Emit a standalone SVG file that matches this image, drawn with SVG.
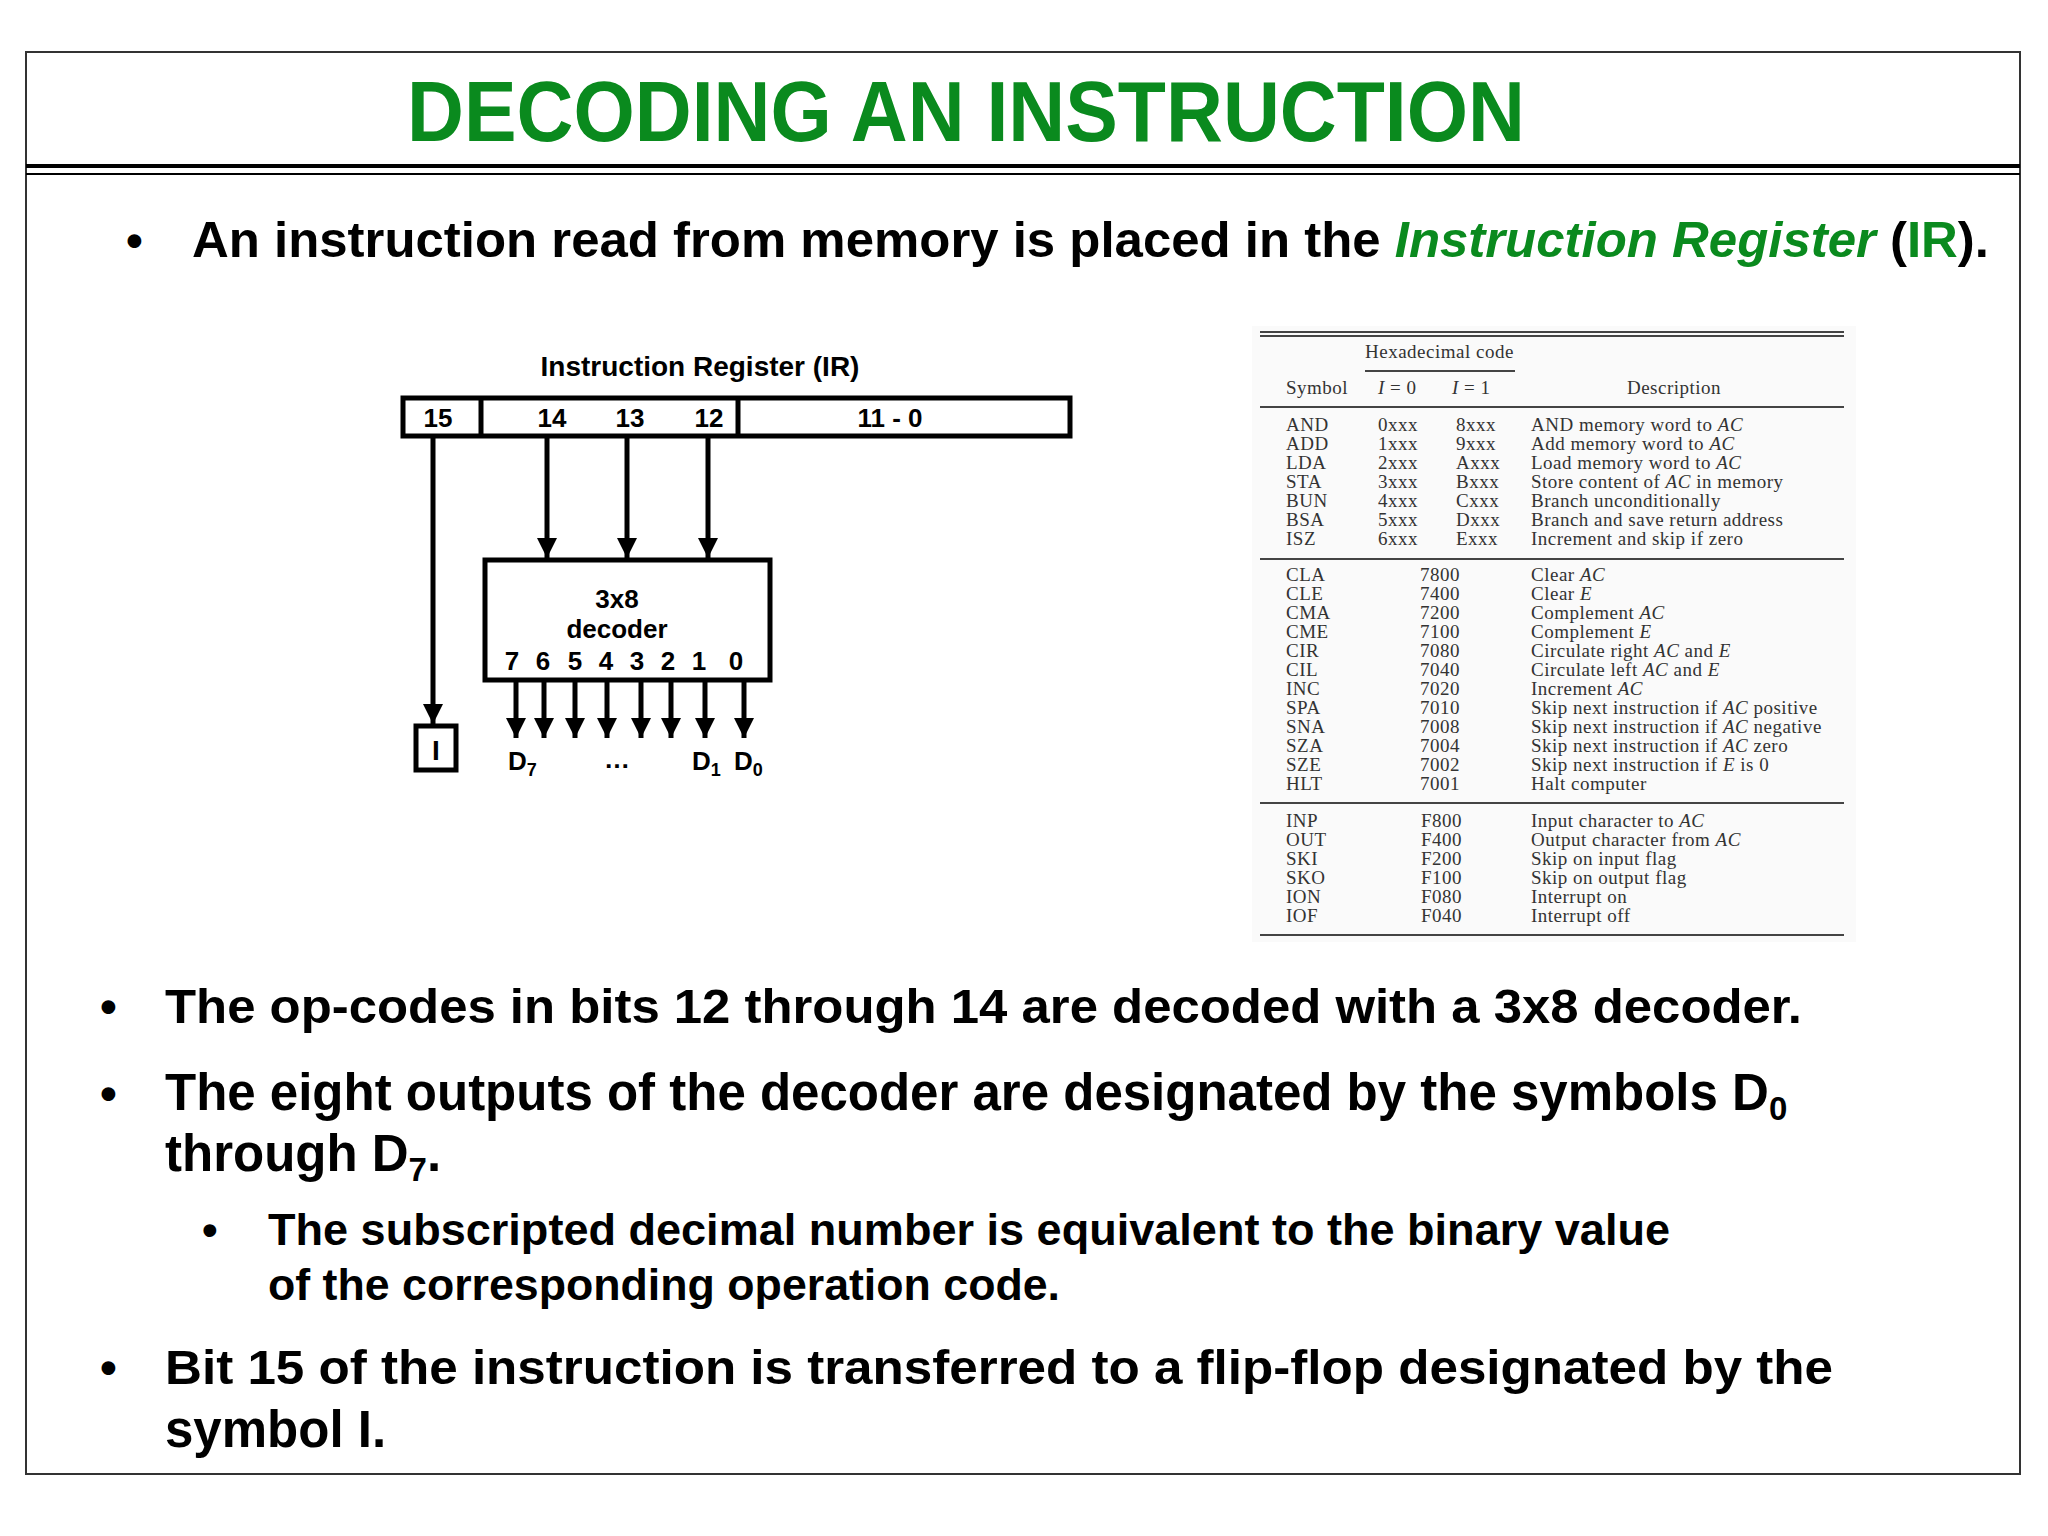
<svg xmlns="http://www.w3.org/2000/svg" width="2048" height="1536" viewBox="0 0 2048 1536">
<defs>
<marker id="ah" viewBox="0 0 10 10" refX="10" refY="5" markerWidth="4" markerHeight="4" orient="auto" markerUnits="strokeWidth"><path d="M0,0 L10,5 L0,10 z" fill="#000"/></marker>
<style>
.b{font-family:"Liberation Sans",Arial,sans-serif;font-weight:bold;fill:#000}
.g{fill:#0a8a1e}
.t{font-family:"Liberation Serif","Times New Roman",serif;font-size:19px;letter-spacing:0.5px;fill:#333}
.w{stroke:#000;stroke-width:5;fill:none}
.c{stroke:#000;stroke-width:5;marker-end:url(#ah)}
.tl{stroke:#444;stroke-width:2}
</style>
</defs>
<rect width="2048" height="1536" fill="#fff"/>
<rect x="26" y="52" width="1994" height="1422" fill="none" stroke="#333" stroke-width="2"/>
<line x1="26" y1="166" x2="2020" y2="166" stroke="#000" stroke-width="4"/>
<line x1="26" y1="174" x2="2020" y2="174" stroke="#000" stroke-width="2"/>
<text class="b g" x="966" y="141" font-size="86" text-anchor="middle" textLength="1118" lengthAdjust="spacingAndGlyphs">DECODING AN INSTRUCTION</text>
<text class="b" x="126" y="257" font-size="48">•</text>
<text class="b" x="192" y="257" font-size="50" textLength="1797" lengthAdjust="spacingAndGlyphs">An instruction read from memory is placed in the <tspan class="g" font-style="italic">Instruction Register</tspan> (<tspan class="g">IR</tspan>).</text>

<g id="ir">
<text class="b" x="700" y="376" font-size="28" text-anchor="middle">Instruction Register (IR)</text>
<rect class="w" x="403" y="398" width="667" height="38"/>
<line class="w" x1="481" y1="398" x2="481" y2="436"/>
<line class="w" x1="738" y1="398" x2="738" y2="436"/>
<g class="b" font-size="26" text-anchor="middle">
<text x="438" y="427">15</text><text x="552" y="427">14</text><text x="630" y="427">13</text><text x="709" y="427">12</text><text x="890" y="427">11 - 0</text>
</g>
</g>
<g id="decoder">
<rect class="w" x="485" y="560" width="285" height="120"/>
<g class="b" font-size="26" text-anchor="middle">
<text x="617" y="608">3x8</text><text x="617" y="638">decoder</text>
<text x="512" y="670">7</text><text x="543" y="670">6</text><text x="575" y="670">5</text><text x="606" y="670">4</text><text x="637" y="670">3</text><text x="668" y="670">2</text><text x="699" y="670">1</text><text x="736" y="670">0</text>
</g>
</g>
<g id="flipflop">
<rect class="w" x="416" y="726" width="40" height="44"/>
<text class="b" x="436" y="760" font-size="28" text-anchor="middle">I</text>
</g>
<g id="outputs" class="b" font-size="26">
<text x="508" y="770">D<tspan font-size="18" dy="6">7</tspan></text>
<text x="617" y="768" text-anchor="middle">…</text>
<text x="692" y="770">D<tspan font-size="18" dy="6">1</tspan></text>
<text x="734" y="770">D<tspan font-size="18" dy="6">0</tspan></text>
</g>
<g id="connectors">
<line class="c" x1="433" y1="436" x2="433" y2="724"/>
<line class="c" x1="547" y1="436" x2="547" y2="558"/>
<line class="c" x1="627" y1="436" x2="627" y2="558"/>
<line class="c" x1="708" y1="436" x2="708" y2="558"/>
<line class="c" x1="516" y1="680" x2="516" y2="738"/>
<line class="c" x1="544" y1="680" x2="544" y2="738"/>
<line class="c" x1="575" y1="680" x2="575" y2="738"/>
<line class="c" x1="607" y1="680" x2="607" y2="738"/>
<line class="c" x1="641" y1="680" x2="641" y2="738"/>
<line class="c" x1="671" y1="680" x2="671" y2="738"/>
<line class="c" x1="705" y1="680" x2="705" y2="738"/>
<line class="c" x1="744" y1="680" x2="744" y2="738"/>
</g>

<g id="table">
<rect x="1252" y="326" width="604" height="616" fill="#fafafa"/>
<line class="tl" x1="1260" y1="332" x2="1844" y2="332" stroke-width="2.5"/>
<line class="tl" x1="1260" y1="336" x2="1844" y2="336" stroke-width="1"/>
<line class="tl" x1="1365" y1="371" x2="1515" y2="371"/>
<line class="tl" x1="1260" y1="407" x2="1844" y2="407"/>
<line class="tl" x1="1260" y1="559" x2="1844" y2="559"/>
<line class="tl" x1="1260" y1="803" x2="1844" y2="803"/>
<line class="tl" x1="1260" y1="935" x2="1844" y2="935"/>
<text class="t" x="1365" y="358">Hexadecimal code</text>
<text class="t" x="1286" y="394">Symbol</text>
<text class="t" x="1378" y="394"><tspan font-style="italic">I</tspan> = 0</text>
<text class="t" x="1452" y="394"><tspan font-style="italic">I</tspan> = 1</text>
<text class="t" x="1674" y="394" text-anchor="middle">Description</text>
<g class="t">
<text x="1286" y="431">AND</text><text x="1378" y="431">0xxx</text><text x="1456" y="431">8xxx</text><text x="1531" y="431">AND memory word to <tspan font-style="italic">AC</tspan></text>
<text x="1286" y="450">ADD</text><text x="1378" y="450">1xxx</text><text x="1456" y="450">9xxx</text><text x="1531" y="450">Add memory word to <tspan font-style="italic">AC</tspan></text>
<text x="1286" y="469">LDA</text><text x="1378" y="469">2xxx</text><text x="1456" y="469">Axxx</text><text x="1531" y="469">Load memory word to <tspan font-style="italic">AC</tspan></text>
<text x="1286" y="488">STA</text><text x="1378" y="488">3xxx</text><text x="1456" y="488">Bxxx</text><text x="1531" y="488">Store content of <tspan font-style="italic">AC</tspan> in memory</text>
<text x="1286" y="507">BUN</text><text x="1378" y="507">4xxx</text><text x="1456" y="507">Cxxx</text><text x="1531" y="507">Branch unconditionally</text>
<text x="1286" y="526">BSA</text><text x="1378" y="526">5xxx</text><text x="1456" y="526">Dxxx</text><text x="1531" y="526">Branch and save return address</text>
<text x="1286" y="545">ISZ</text><text x="1378" y="545">6xxx</text><text x="1456" y="545">Exxx</text><text x="1531" y="545">Increment and skip if zero</text>
<text x="1286" y="581">CLA</text><text x="1420" y="581">7800</text><text x="1531" y="581">Clear <tspan font-style="italic">AC</tspan></text>
<text x="1286" y="600">CLE</text><text x="1420" y="600">7400</text><text x="1531" y="600">Clear <tspan font-style="italic">E</tspan></text>
<text x="1286" y="619">CMA</text><text x="1420" y="619">7200</text><text x="1531" y="619">Complement <tspan font-style="italic">AC</tspan></text>
<text x="1286" y="638">CME</text><text x="1420" y="638">7100</text><text x="1531" y="638">Complement <tspan font-style="italic">E</tspan></text>
<text x="1286" y="657">CIR</text><text x="1420" y="657">7080</text><text x="1531" y="657">Circulate right <tspan font-style="italic">AC</tspan> and <tspan font-style="italic">E</tspan></text>
<text x="1286" y="676">CIL</text><text x="1420" y="676">7040</text><text x="1531" y="676">Circulate left <tspan font-style="italic">AC</tspan> and <tspan font-style="italic">E</tspan></text>
<text x="1286" y="695">INC</text><text x="1420" y="695">7020</text><text x="1531" y="695">Increment <tspan font-style="italic">AC</tspan></text>
<text x="1286" y="714">SPA</text><text x="1420" y="714">7010</text><text x="1531" y="714">Skip next instruction if <tspan font-style="italic">AC</tspan> positive</text>
<text x="1286" y="733">SNA</text><text x="1420" y="733">7008</text><text x="1531" y="733">Skip next instruction if <tspan font-style="italic">AC</tspan> negative</text>
<text x="1286" y="752">SZA</text><text x="1420" y="752">7004</text><text x="1531" y="752">Skip next instruction if <tspan font-style="italic">AC</tspan> zero</text>
<text x="1286" y="771">SZE</text><text x="1420" y="771">7002</text><text x="1531" y="771">Skip next instruction if <tspan font-style="italic">E</tspan> is 0</text>
<text x="1286" y="790">HLT</text><text x="1420" y="790">7001</text><text x="1531" y="790">Halt computer</text>
<text x="1286" y="827">INP</text><text x="1421" y="827">F800</text><text x="1531" y="827">Input character to <tspan font-style="italic">AC</tspan></text>
<text x="1286" y="846">OUT</text><text x="1421" y="846">F400</text><text x="1531" y="846">Output character from <tspan font-style="italic">AC</tspan></text>
<text x="1286" y="865">SKI</text><text x="1421" y="865">F200</text><text x="1531" y="865">Skip on input flag</text>
<text x="1286" y="884">SKO</text><text x="1421" y="884">F100</text><text x="1531" y="884">Skip on output flag</text>
<text x="1286" y="903">ION</text><text x="1421" y="903">F080</text><text x="1531" y="903">Interrupt on</text>
<text x="1286" y="922">IOF</text><text x="1421" y="922">F040</text><text x="1531" y="922">Interrupt off</text>
</g>
</g>

<g class="b" font-size="48">
<text x="100" y="1023">•</text>
<text x="165" y="1023" textLength="1637" lengthAdjust="spacingAndGlyphs">The op-codes in bits 12 through 14 are decoded with a 3x8 decoder.</text>
<text x="100" y="1110">•</text>
<text x="165" y="1110" font-size="51">The eight outputs of the decoder are designated by the symbols D<tspan font-size="33" dy="10">0</tspan></text>
<text x="165" y="1171" font-size="51">through D<tspan font-size="33" dy="10">7</tspan><tspan dy="-10">.</tspan></text>
<text x="100" y="1384">•</text>
<text x="165" y="1384" textLength="1668" lengthAdjust="spacingAndGlyphs">Bit 15 of the instruction is transferred to a flip-flop designated by the</text>
<text x="165" y="1447" font-size="51">symbol I.</text>
</g>
<g class="b" font-size="44.7">
<text x="202" y="1245">•</text>
<text x="268" y="1245" textLength="1402" lengthAdjust="spacingAndGlyphs">The subscripted decimal number is equivalent to the binary value</text>
<text x="268" y="1300">of the corresponding operation code.</text>
</g>
</svg>
